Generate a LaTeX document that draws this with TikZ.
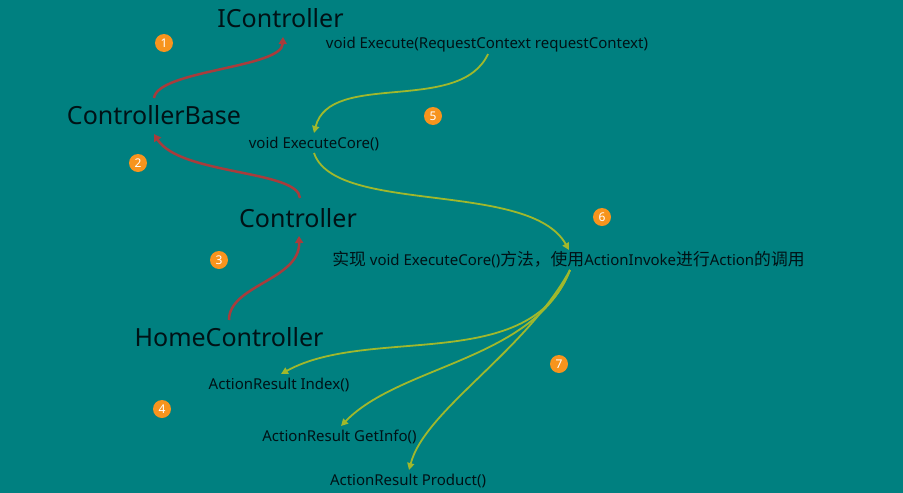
\documentclass[tikz,border=0pt]{standalone}
\usepackage{fontspec}
\setmainfont{Noto Sans}
\newfontfamily\cjk[Scale=1.12]{Noto Sans CJK SC}
\usetikzlibrary{arrows.meta}
\definecolor{bgteal}{HTML}{008080}
\definecolor{inkdark}{HTML}{001216}
\definecolor{redline}{HTML}{A83C3C}
\definecolor{greenline}{HTML}{A0B82C}
\definecolor{badgeor}{HTML}{F7941D}
\tikzset{
  title/.style={inner sep=0pt,text=inkdark,font=\fontsize{25}{28}\selectfont},
  code/.style={inner sep=0pt,text=inkdark,font=\fontsize{15}{18}\selectfont},
  badge/.style={circle,fill=badgeor,minimum size=18pt,inner sep=0pt,text=white,font=\bfseries\fontsize{12}{13}\selectfont},
  redarrow/.style={draw=redline,line width=2.5pt,-{Triangle[length=7pt,width=8pt]}},
  greenarrow/.style={draw=greenline,line width=1.8pt,-{Triangle[length=7pt,width=7pt]}}
}
\begin{document}
\begin{tikzpicture}[x=1pt,y=-1pt]
\useasboundingbox (0,0) rectangle (903,493);
\fill[bgteal] (0,0) rectangle (903,493);
\node[title] (ic) at (280.5,18) {IController};
\node[title] (cb) at (154,115) {ControllerBase};
\node[title] (c) at (298,218) {Controller};
\node[title] (hc) at (229,337) {HomeController};
\node[code] (ex) at (487,45) {void Execute(RequestContext requestContext)};
\node[code] (core) at (314,144) {void ExecuteCore()};
\node[code] (impl) at (568.5,260) {{\cjk 实现} void ExecuteCore(){\cjk 方法，使用}ActionInvoke{\cjk 进行}Action{\cjk 的调用}};
\node[code] (a1) at (279,385) {ActionResult Index()};
\node[code] (a2) at (339.5,437) {ActionResult GetInfo()};
\node[code] (a3) at (408,481) {ActionResult Product()};
\node[badge] (b1) at (164,43) {1};
\node[badge] (b2) at (138,163) {2};
\node[badge] (b3) at (219,260) {3};
\node[badge] (b4) at (162,409) {4};
\node[badge] (b5) at (433,116) {5};
\node[badge] (b6) at (602,217) {6};
\node[badge] (b7) at (559,364) {7};
\coordinate (icin) at (283,37);
\coordinate (cbup) at (154,98);
\coordinate (cbin) at (154,134);
\coordinate (cup) at (300,198);
\coordinate (cin) at (299,236);
\coordinate (hcup) at (229,320);
\coordinate (exout) at (488,54);
\coordinate (corein) at (314,133);
\coordinate (coreout) at (314,153);
\coordinate (implin) at (569,250);
\coordinate (implout) at (570,270);
\coordinate (a1in) at (281,374);
\coordinate (a2in) at (341,426);
\coordinate (a3in) at (409,470);
\draw[redarrow] (cbup) .. controls (158,70) and (282,68) .. (icin);
\draw[redarrow] (cup) .. controls (298,170) and (180,175) .. (cbin);
\draw[redarrow] (hcup) .. controls (229,285) and (300,280) .. (cin);
\draw[greenarrow] (exout) .. controls (460,115) and (330,70) .. (corein);
\draw[greenarrow] (coreout) .. controls (335,215) and (530,180) .. (implin);
\draw[greenarrow] (implout) .. controls (530,375) and (370,325) .. (a1in);
\draw[greenarrow] (implout) .. controls (535,360) and (400,365) .. (a2in);
\draw[greenarrow] (implout) .. controls (525,352) and (425,410) .. (a3in);
\end{tikzpicture}
\end{document}
